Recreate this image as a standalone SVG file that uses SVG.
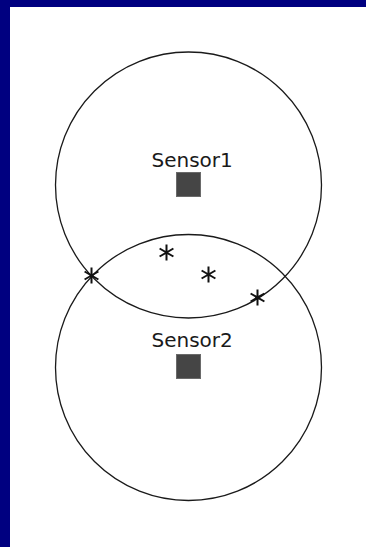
<svg xmlns="http://www.w3.org/2000/svg" width="366" height="547" viewBox="0 0 366 547">
<style>
.circ{fill:none;stroke:#1a1a1a;stroke-width:1.3}
.sq{fill:#454545;stroke:#6a6a6a;stroke-width:1}
.lbl{font-family:"DejaVu Sans","Liberation Sans",sans-serif;font-size:20px;fill:#1a1a1a}
.star{stroke:#111;stroke-width:2;fill:none}
</style>
<defs>
<g id="ast"><path d="M0,-8V8M-6.9,-4L6.9,4M-6.9,4L6.9,-4"/></g>
</defs>
<rect x="0" y="0" width="366" height="547" fill="#ffffff"/>
<rect x="0" y="0" width="366" height="7" fill="#000080"/>
<rect x="0" y="0" width="10" height="547" fill="#000080"/>
<g id="sensor1">
<circle class="circ" cx="188.5" cy="185" r="133"/>
<text class="lbl" x="151.5" y="167">Sensor1</text>
<rect class="sq" x="176.5" y="172.5" width="24" height="24"/>
</g>
<g id="sensor2">
<circle class="circ" cx="188.5" cy="367.5" r="133"/>
<text class="lbl" x="151.5" y="347">Sensor2</text>
<rect class="sq" x="176.5" y="354.5" width="24" height="24"/>
</g>
<g id="points" class="star">
<use href="#ast" x="91.5" y="275.5"/>
<use href="#ast" x="166.5" y="252.5"/>
<use href="#ast" x="208.5" y="274.5"/>
<use href="#ast" x="257.5" y="297.5"/>
</g>
</svg>
